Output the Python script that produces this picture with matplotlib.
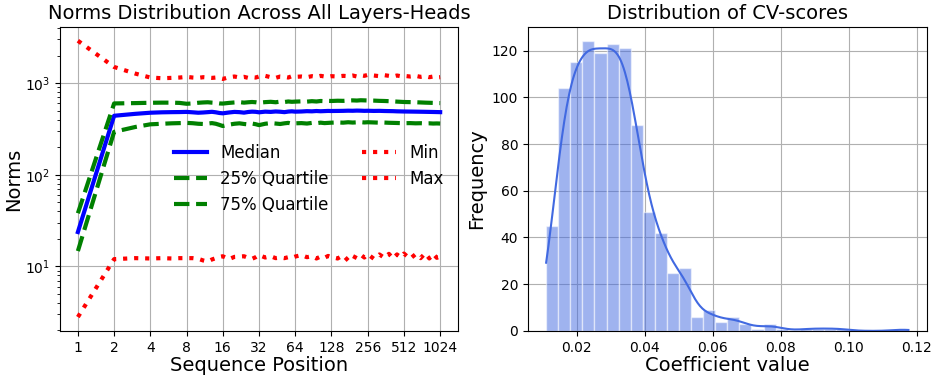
import numpy as np
import matplotlib
matplotlib.use("Agg")
import matplotlib.pyplot as plt

"""
left panel: norm statistics per sequence position (read off the figure)
"""
positions = np.concatenate([np.arange(1, 17),
                            np.arange(18, 33, 2),
                            np.arange(36, 65, 4),
                            np.arange(72, 129, 8),
                            np.arange(144, 257, 16),
                            np.arange(288, 513, 32),
                            np.arange(576, 1025, 64)])

norm_max = [2900, 1500, 1270, 1150, 1130, 1140, 1150, 1170, 1150, 1140, 1160, 1150, 1140, 1150, 1130, 1110,
            1160, 1180, 1150, 1170, 1140, 1160, 1150, 1180,
            1200, 1160, 1140, 1180, 1170, 1150, 1190, 1170,
            1180, 1160, 1190, 1170, 1200, 1180, 1170, 1190,
            1180, 1200, 1190, 1210, 1180, 1220, 1200, 1230,
            1210, 1190, 1220, 1200, 1180, 1210, 1190, 1200,
            1180, 1200, 1170, 1190, 1160, 1180, 1150, 1160]

norm_q75 = [38, 600, 605, 610, 612, 612, 608, 595, 600, 610, 615, 618, 612, 608, 600, 598,
            608, 615, 620, 612, 618, 622, 618, 610,
            620, 625, 618, 628, 622, 630, 625, 628,
            632, 628, 635, 630, 638, 635, 640, 638,
            642, 640, 645, 648, 645, 650, 648, 646,
            644, 640, 638, 635, 632, 628, 625, 622,
            620, 618, 615, 612, 610, 608, 606, 605]

norm_median = [23.7, 440, 462, 475, 480, 482, 483, 485, 480, 475, 478, 482, 486, 480, 472, 468,
               478, 485, 482, 476, 484, 488, 486, 480,
               488, 485, 490, 487, 482, 489, 492, 488,
               490, 494, 492, 496, 493, 495, 497, 496,
               497, 498, 500, 499, 501, 500, 498, 499,
               497, 498, 496, 495, 494, 492, 491, 490,
               489, 488, 487, 486, 485, 484, 483, 482]

norm_q25 = [14.7, 294, 332, 355, 360, 364, 366, 368, 365, 360, 358, 362, 366, 360, 350, 340,
            352, 360, 364, 358, 354, 362, 356, 348,
            360, 366, 362, 358, 364, 368, 360, 364,
            366, 362, 368, 365, 370, 366, 368, 370,
            372, 370, 374, 371, 373, 375, 372, 374,
            372, 370, 371, 369, 368, 367, 366, 365,
            366, 364, 365, 363, 364, 362, 363, 362]

norm_min = [2.8, 12.0, 12.3, 12.2, 12.3, 12.2, 12.3, 12.3, 12.3, 12.1, 11.6, 11.3, 11.9, 12.3, 12.7, 12.9,
            12.0, 12.7, 12.8, 12.9, 12.4, 12.1, 12.6, 13.3,
            12.5, 12.9, 12.3, 12.5, 12.3, 12.6, 12.4, 12.8,
            13.3, 12.6, 12.9, 12.2, 12.8, 12.4, 13.0, 12.6,
            12.2, 13.2, 11.6, 13.0, 12.3, 13.4, 12.5, 13.6,
            12.1, 13.5, 12.4, 13.7, 12.2, 13.5, 12.6, 13.8,
            12.1, 13.6, 12.3, 13.9, 12.2, 13.7, 12.4, 12.8]

x_ticks = [1, 2, 4, 8, 16, 32, 64, 128, 256, 512, 1024]

"""
right panel: histogram of CV scores (30 bins)
"""
cv_range = (0.011, 0.1175)
cv_counts = [45, 104, 115, 124, 119, 123, 121, 88, 51, 42,
             25, 27, 6, 9, 4, 6, 3, 1, 3, 1,
             0, 1, 1, 1, 1, 0, 0, 0, 0, 1]
cv_ticks = [0.02, 0.04, 0.06, 0.08, 0.10, 0.12]

fig, (ax1, ax2) = plt.subplots(1, 2, figsize=(9.34, 3.79), dpi=100)
fig.subplots_adjust(left=0.064, right=0.992, top=0.929, bottom=0.127, wspace=0.175)

# left
ax1.plot(positions, norm_median, color='blue', linewidth=3, label='Median')
ax1.plot(positions, norm_q25, color='green', linestyle='--', linewidth=3, label='25% Quartile')
ax1.plot(positions, norm_q75, color='green', linestyle='--', linewidth=3, label='75% Quartile')
ax1.plot(positions, norm_min, color='red', linestyle=':', linewidth=3, label='Min')
ax1.plot(positions, norm_max, color='red', linestyle=':', linewidth=3, label='Max')
ax1.set_xscale('log', base=2)
ax1.set_yscale('log')
ax1.set_xticks(x_ticks)
ax1.set_xticklabels([str(t) for t in x_ticks])
ax1.set_xlabel('Sequence Position', fontsize=14, labelpad=1)
ax1.set_ylabel('Norms', fontsize=14, labelpad=1)
ax1.set_title('Norms Distribution Across All Layers-Heads', fontsize=14)
ax1.grid(True)
ax1.legend(ncol=2, frameon=False, fontsize=12, loc='center right')

# right
n_bins = len(cv_counts)
edges = np.linspace(cv_range[0], cv_range[1], n_bins + 1)
width = edges[1] - edges[0]
centers = edges[:-1] + width / 2
counts = np.array(cv_counts, dtype=float)
ax2.bar(edges[:-1], counts, width=width, align='edge', color='royalblue', alpha=0.5,
        edgecolor='white', linewidth=1)

# kde of the binned values (scott bandwidth), scaled to counts
n = counts.sum()
mean = np.sum(counts * centers) / n
std = np.sqrt(np.sum(counts * (centers - mean) ** 2) / n)
bw = std * n ** (-1 / 5)
grid = np.linspace(cv_range[0], cv_range[1], 300)
dens = np.sum(counts[None, :] * np.exp(-0.5 * ((grid[:, None] - centers[None, :]) / bw) ** 2), axis=1)
dens = dens / (n * bw * np.sqrt(2 * np.pi))
ax2.plot(grid, dens * n * width, color='royalblue', linewidth=1.5)

ax2.set_xticks(cv_ticks)
ax2.set_xlim(cv_range[0] - 0.05 * (cv_range[1] - cv_range[0]),
             cv_range[1] + 0.05 * (cv_range[1] - cv_range[0]))
ax2.set_xlabel('Coefficient value', fontsize=14, labelpad=1)
ax2.set_ylabel('Frequency', fontsize=14)
ax2.set_title('Distribution of CV-scores', fontsize=14)
ax2.grid(True)
ax2.set_axisbelow(True)

plt.savefig('out.png', dpi=100)
